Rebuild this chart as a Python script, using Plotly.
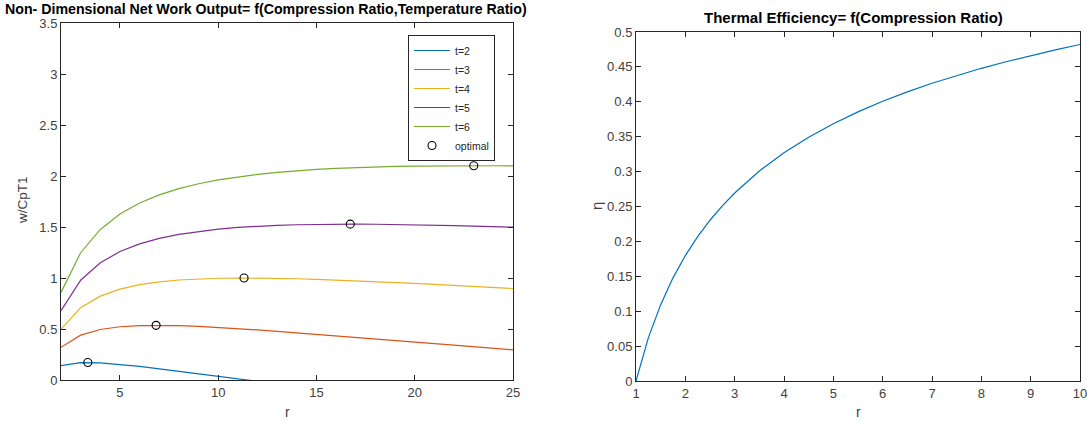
import plotly.graph_objects as go

# ---------------- data ----------------
r_work = list(range(2, 26))
w_t2 = [0.1403, 0.1701, 0.1681, 0.1534, 0.1328, 0.1094, 0.0845, 0.0590, 0.0334, 0.0080,
        -0.0173, -0.0421, -0.0665, -0.0904, -0.1139, -0.1369, -0.1595, -0.1816, -0.2033,
        -0.2246, -0.2455, -0.2659, -0.2860, -0.3058]
w_t3 = [0.3200, 0.4395, 0.4952, 0.5220, 0.5335, 0.5359, 0.5324, 0.5252, 0.5155, 0.5039,
        0.4911, 0.4774, 0.4631, 0.4483, 0.4333, 0.4180, 0.4026, 0.3872, 0.3718, 0.3564,
        0.3411, 0.3258, 0.3107, 0.2956]
w_t4 = [0.4996, 0.7089, 0.8222, 0.8906, 0.9342, 0.9624, 0.9804, 0.9915, 0.9975, 0.9999,
        0.9994, 0.9969, 0.9926, 0.9870, 0.9804, 0.9729, 0.9647, 0.9561, 0.9469, 0.9374,
        0.9276, 0.9175, 0.9073, 0.8969]
w_t5 = [0.6793, 0.9783, 1.1493, 1.2592, 1.3348, 1.3889, 1.4284, 1.4577, 1.4796, 1.4959,
        1.5078, 1.5163, 1.5221, 1.5257, 1.5275, 1.5278, 1.5269, 1.5249, 1.5220, 1.5184,
        1.5141, 1.5093, 1.5040, 1.4983]
w_t6 = [0.8590, 1.2477, 1.4763, 1.6278, 1.7355, 1.8154, 1.8763, 1.9239, 1.9616, 1.9918,
        2.0161, 2.0358, 2.0516, 2.0644, 2.0747, 2.0827, 2.0890, 2.0937, 2.0971, 2.0994,
        2.1006, 2.1010, 2.1007, 2.0996]
series_labels = ["t=2", "t=3", "t=4", "t=5", "t=6"]
series_values = [w_t2, w_t3, w_t4, w_t5, w_t6]

r_opt = [3.364, 6.839, 11.314, 16.719, 23.003]
w_opt = [0.1716, 0.5359, 1.0000, 1.5279, 2.1010]

r_eff = [1, 1.25, 1.5, 1.75, 2, 2.25, 2.5, 2.75, 3, 3.5, 4, 4.5, 5, 5.5, 6, 6.5,
         7, 7.5, 8, 8.5, 9, 9.5, 10]
eta = [0.0, 0.0618, 0.1094, 0.1478, 0.1797, 0.2068, 0.2303, 0.2510, 0.2694, 0.3009,
       0.3270, 0.3493, 0.3686, 0.3856, 0.4007, 0.4142, 0.4265, 0.4377, 0.4480, 0.4574,
       0.4662, 0.4744, 0.4821]

# ---------------- styling ----------------
colors = ["#0072BD", "#D95319", "#EDB120", "#7E2F8E", "#77AC30"]
W, H = 1087, 426
FONT = "Liberation Sans, Arial, sans-serif"
AX = "#262626"
TXT = "#404040"

def px_x(p):
    return p / W

def px_y(p):
    return 1 - p / H

fig = go.Figure()

for lab, vals, c in zip(series_labels, series_values, colors):
    fig.add_trace(go.Scatter(x=r_work, y=vals, mode="lines", name=lab,
                             line=dict(color=c, width=1.2), xaxis="x", yaxis="y"))
fig.add_trace(go.Scatter(x=r_opt, y=w_opt, mode="markers", name="optimal",
                         marker=dict(symbol="circle-open", color="black", size=8,
                                     line=dict(width=1.1, color="black")),
                         xaxis="x", yaxis="y"))
fig.add_trace(go.Scatter(x=r_eff, y=eta, mode="lines", showlegend=False,
                         line=dict(color=colors[0], width=1.2), xaxis="x2", yaxis="y2"))

axis_common = dict(showgrid=False, zeroline=False, showline=True, linecolor=AX,
                   linewidth=1, mirror="ticks", ticks="inside", ticklen=5,
                   tickcolor=AX, automargin=False, ticklabeloverflow="allow",
                   tickfont=dict(family=FONT, size=13, color=TXT))

fig.update_layout(
    width=W, height=H,
    margin=dict(l=0, r=0, t=0, b=0, pad=0, autoexpand=False),
    paper_bgcolor="white", plot_bgcolor="white",
    font=dict(family=FONT, color=TXT),
    xaxis=dict(domain=[px_x(61), px_x(513)], range=[2, 25],
               tickvals=[5, 10, 15, 20, 25], anchor="y", **axis_common),
    yaxis=dict(domain=[px_y(380), px_y(23)], range=[0, 3.5], dtick=0.5,
               anchor="x", **axis_common),
    xaxis2=dict(domain=[px_x(636), px_x(1080)], range=[1, 10], dtick=1,
                anchor="y2", **axis_common),
    yaxis2=dict(domain=[px_y(381), px_y(32)], range=[0, 0.5], dtick=0.05,
                anchor="x2", **axis_common),
    legend=dict(x=px_x(408), y=px_y(35), xanchor="left", yanchor="top",
                bgcolor="white", bordercolor=AX, borderwidth=1,
                font=dict(family=FONT, size=10.5, color="#262626"),
                tracegroupgap=0, itemwidth=36, entrywidth=62),
    annotations=[
        dict(text="<b>Non- Dimensional Net Work Output= f(Compression Ratio,Temperature Ratio)</b>",
             x=px_x(3), y=px_y(9), xref="paper", yref="paper", xanchor="left",
             yanchor="middle", showarrow=False,
             font=dict(family=FONT, size=14.2, color="black")),
        dict(text="<b>Thermal Efficiency= f(Compression Ratio)</b>",
             x=px_x(853), y=px_y(18), xref="paper", yref="paper", xanchor="center",
             yanchor="middle", showarrow=False,
             font=dict(family=FONT, size=15, color="black")),
        dict(text="r", x=px_x(287), y=px_y(412), xref="paper", yref="paper",
             xanchor="center", yanchor="middle", showarrow=False,
             font=dict(family=FONT, size=14, color=TXT)),
        dict(text="r", x=px_x(858), y=px_y(412), xref="paper", yref="paper",
             xanchor="center", yanchor="middle", showarrow=False,
             font=dict(family=FONT, size=14, color=TXT)),
        dict(text="w/CpT1", x=px_x(22), y=px_y(200), xref="paper", yref="paper",
             xanchor="center", yanchor="middle", showarrow=False, textangle=-90,
             font=dict(family=FONT, size=13.5, color=TXT)),
        dict(text="η", x=px_x(596), y=px_y(206), xref="paper", yref="paper",
             xanchor="center", yanchor="middle", showarrow=False, textangle=-90,
             font=dict(family=FONT, size=15, color=TXT)),
    ],
)

fig.write_html("out.html", config={"displayModeBar": False},
               post_script="document.body.style.margin='0';document.body.style.overflow='hidden';")
